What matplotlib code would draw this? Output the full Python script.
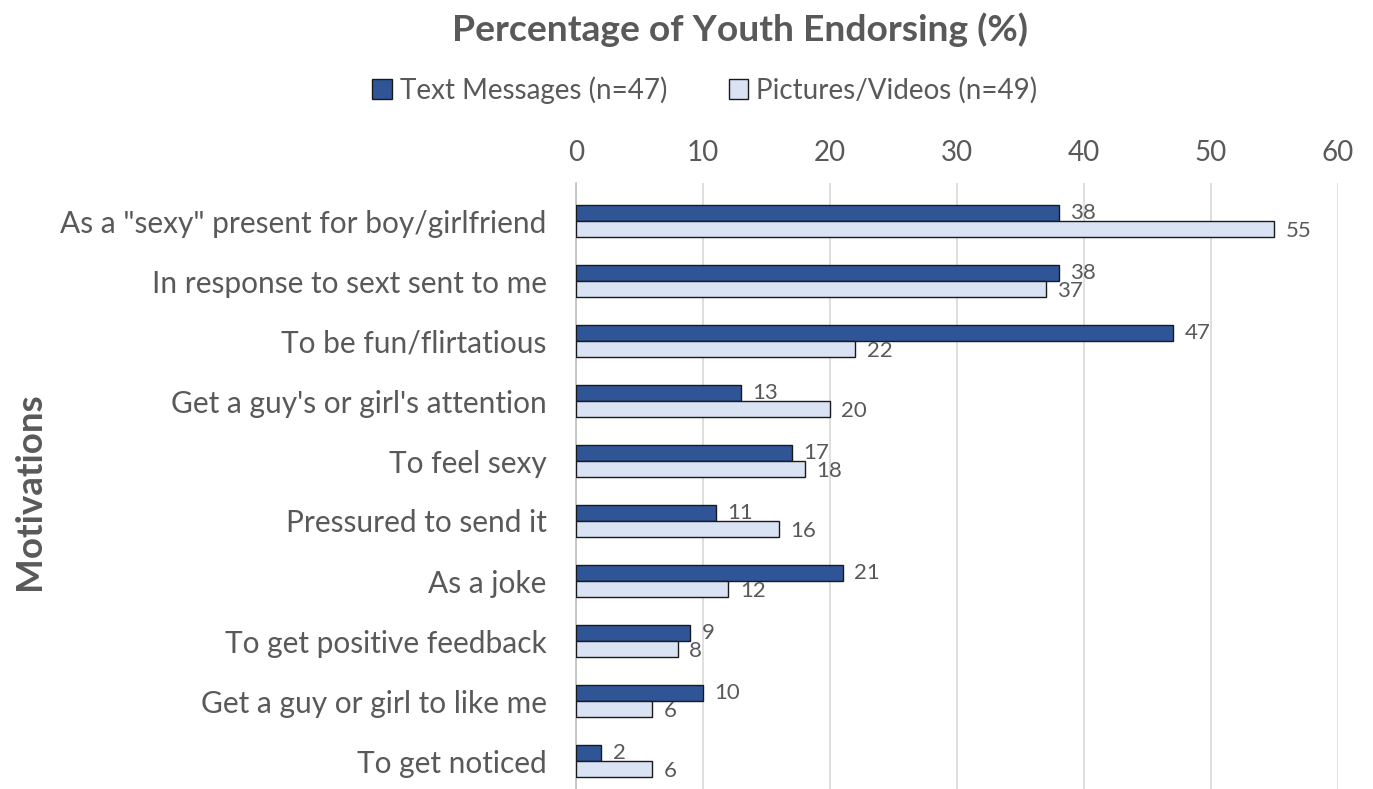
import matplotlib
matplotlib.use("Agg")
import matplotlib.pyplot as plt
import numpy as np

categories = ['As a "sexy" present for boy/girlfriend', "In response to sext sent to me",
              "To be fun/flirtatious", "Get a guy's or girl's attention", "To feel sexy",
              "Pressured to send it", "As a joke", "To get positive feedback",
              "Get a guy or girl to like me", "To get noticed"]
text_msgs = [38, 38, 47, 13, 17, 11, 21, 9, 10, 2]
pics_vids = [55, 37, 22, 20, 18, 16, 12, 8, 6, 6]
series_names = ["Text Messages (n=47)", "Pictures/Videos (n=49)"]
xticks = [0, 10, 20, 30, 40, 50, 60]

plt.rcParams['font.family'] = ['Lato', 'DejaVu Sans']
gray = '#595959'
dark = '#2F5597'
light = '#DAE3F3'

fig = plt.figure(figsize=(13.73, 7.89), dpi=100)
W, H = 1373, 789
ax = fig.add_axes([576 / W, 0, (1338 - 576) / W, (789 - 183) / H])

y = np.arange(len(categories))
h = 0.265
ax.barh(y - h / 2, text_msgs, height=h, color=dark, edgecolor='#1a1a1a', linewidth=1.0,
        label=series_names[0], zorder=3)
ax.barh(y + h / 2, pics_vids, height=h, color=light, edgecolor='#1a1a1a', linewidth=1.0,
        label=series_names[1], zorder=3)

for i in range(len(categories)):
    ax.text(text_msgs[i] + 0.9, y[i] - h / 2, str(text_msgs[i]), va='center', ha='left',
            fontsize=16, color=gray)
    ax.text(pics_vids[i] + 0.9, y[i] + h / 2 + 0.03, str(pics_vids[i]), va='center', ha='left',
            fontsize=16, color=gray)

ax.set_xlim(0, 60)
ax.set_ylim((789 - 221) / 60, (183 - 221) / 60)
ax.set_xticks(xticks)
ax.xaxis.tick_top()
ax.tick_params(axis='x', length=0, labelsize=20, labelcolor=gray, pad=12)
ax.set_yticks(y)
ax.set_yticklabels(categories)
ax.tick_params(axis='y', length=0, labelsize=21.5, labelcolor=gray, pad=21)
ax.grid(axis='x', color='#d9d9d9', linewidth=1.2, zorder=0)
for s in ['top', 'right', 'bottom']:
    ax.spines[s].set_visible(False)
ax.spines['left'].set_color('#bfbfbf')
ax.spines['left'].set_linewidth(1.2)

fig.text(740 / W, 1 - 30 / H, "Percentage of Youth Endorsing (%)", ha='center', va='center',
         fontsize=26.8, fontweight='bold', color=gray)
fig.text(30 / W, 1 - 491 / H, "Motivations", ha='center', va='center', rotation=90,
         fontsize=26.5, fontweight='bold', color=gray)

handles, labels = ax.get_legend_handles_labels()
fig.legend(handles, labels, loc='center', bbox_to_anchor=(705 / W, 1 - 90 / H), ncol=2,
           frameon=False, fontsize=20, labelcolor=gray, handlelength=0.7, handleheight=0.7,
           handletextpad=0.3, columnspacing=2.2)

fig.savefig("out.png", dpi=100)
